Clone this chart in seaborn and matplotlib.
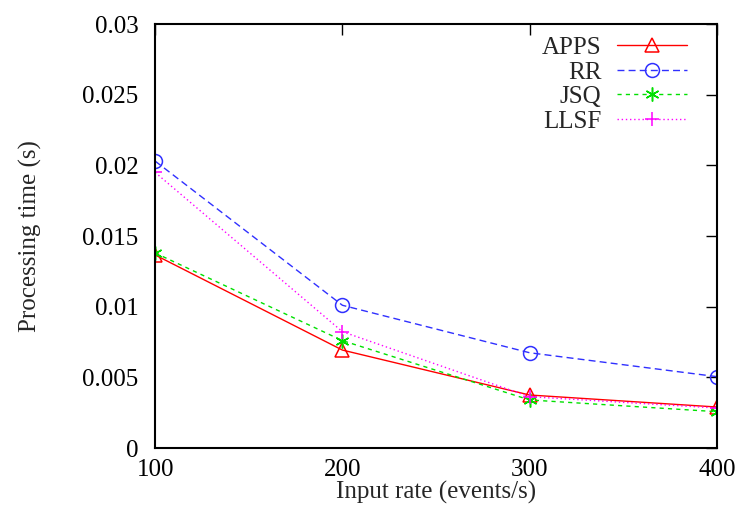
import matplotlib
matplotlib.use('Agg')
import matplotlib.pyplot as plt
import seaborn as sns
import pandas as pd

# Werte
input_rate = [100, 200, 300, 400]
apps = [0.01366, 0.00693, 0.00375, 0.0029]
rr = [0.0203, 0.0101, 0.00674, 0.00505]
jsq = [0.0138, 0.0076, 0.0034, 0.00257]
llsf = [0.0195, 0.00823, 0.00363, 0.00283]

series = {'APPS': apps, 'RR': rr, 'JSQ': jsq, 'LLSF': llsf}
colors = {'APPS': '#ff0000', 'RR': '#3030ff', 'JSQ': '#00e000', 'LLSF': '#ff00ff'}
markers = {'APPS': '^', 'RR': 'o', 'JSQ': (6, 2, 0), 'LLSF': '+'}
dashes = {'APPS': '', 'RR': (5, 3), 'JSQ': (3, 3), 'LLSF': (1, 2)}

df = pd.DataFrame([
    {'rate': r, 'time': v, 'method': name}
    for name, vals in series.items() for r, v in zip(input_rate, vals)
])

sns.set_style('white')
plt.rcParams['font.family'] = ['Liberation Serif', 'DejaVu Serif']
plt.rcParams['font.size'] = 18

fig = plt.figure(figsize=(7.39, 5.23), dpi=100)
ax = fig.add_axes([0.21, 0.1434, 0.76, 0.8106])

for name in series:
    sub = df[df['method'] == name]
    filled = name in ('JSQ', 'LLSF')
    sns.lineplot(data=sub, x='rate', y='time', ax=ax, label=name,
                 color=colors[name], marker=markers[name], markersize=10,
                 markerfacecolor=colors[name] if filled else 'none',
                 markeredgecolor=colors[name], markeredgewidth=1.1,
                 linewidth=1.0, dashes=dashes[name])

ax.set_xlim(100, 400)
ax.set_ylim(0, 0.03)
ax.set_xticks(input_rate)
ax.set_yticks([0, 0.005, 0.01, 0.015, 0.02, 0.025, 0.03])
ax.set_yticklabels(['0', '0.005', '0.01', '0.015', '0.02', '0.025', '0.03'])
ax.set_xlabel('Input rate (events/s)', labelpad=0)
ax.set_ylabel('Processing time (s)', labelpad=29)
ax.tick_params(direction='in', top=True, right=True, length=8, width=1,
               labelsize=18, colors='black')
ax.tick_params(axis='y', pad=12)
ax.tick_params(axis='x', pad=8)
for s in ax.spines.values():
    s.set_linewidth(1.5)
    s.set_color('black')

ax.legend(loc='upper right', bbox_to_anchor=(0.964, 0.994), frameon=False,
          markerfirst=False, handlelength=2.8, labelspacing=0.08, fontsize=18,
          borderaxespad=0, handletextpad=0.6)

fig.savefig('out.png', dpi=100)
